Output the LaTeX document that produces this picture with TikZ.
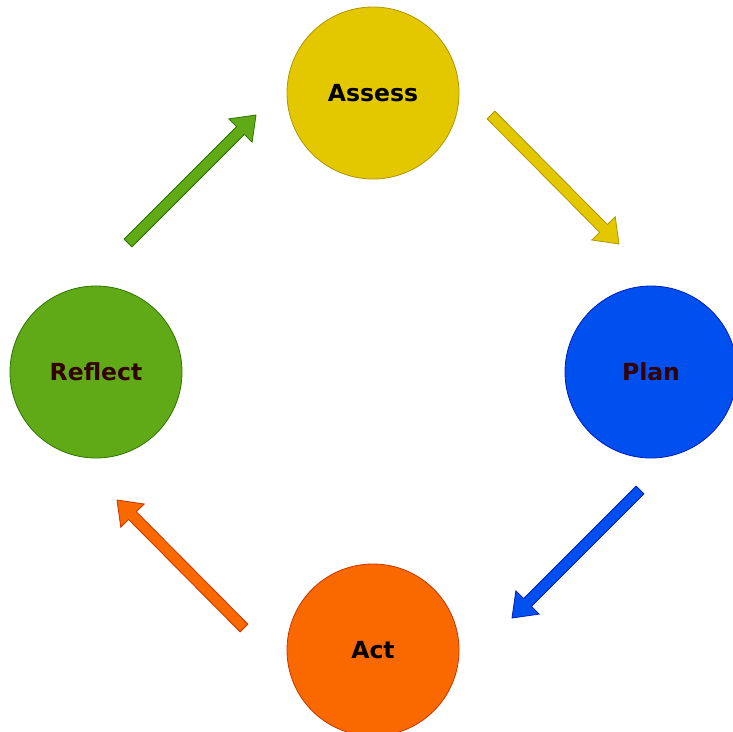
\documentclass[tikz,border=0pt]{standalone}
\usepackage{fontspec}
\setmainfont{DejaVu Sans}
\usetikzlibrary{calc}

\definecolor{yelFill}{HTML}{E3C800}
\definecolor{yelLine}{HTML}{B09500}
\definecolor{bluFill}{HTML}{0050EF}
\definecolor{bluLine}{HTML}{001DBC}
\definecolor{oraFill}{HTML}{FA6800}
\definecolor{oraLine}{HTML}{C73500}
\definecolor{grnFill}{HTML}{60A917}
\definecolor{grnLine}{HTML}{2D7600}
\definecolor{darkText}{HTML}{330000}

\tikzset{
  stage/.style={circle, minimum size=172pt, inner sep=0pt, line width=0.8pt,
    font=\fontsize{23.5}{27}\selectfont\bfseries},
  % flat block arrow: shaft 11pt wide, head 33pt wide and 22pt long
  blockarrow/.style={line width=0.8pt, line join=miter, to path={
    let \p1=(\tikztostart), \p2=(\tikztotarget), \p3=($(\p2)!22pt!(\p1)$) in
    ($(\p1)!5.5pt!90:(\p2)$) -- ($(\p3)!5.5pt!-90:(\p1)$) -- ($(\p3)!16.5pt!-90:(\p1)$)
    -- (\p2) -- ($(\p3)!16.5pt!90:(\p1)$) -- ($(\p3)!5.5pt!90:(\p1)$)
    -- ($(\p1)!5.5pt!-90:(\p2)$) -- cycle}}
}

\begin{document}
\begin{tikzpicture}[x=1pt, y=-1pt]
  \useasboundingbox (0,0) rectangle (733,731);

  \node[stage, fill=yelFill, draw=yelLine] (assess)  at (373,93)  {Assess};
  \node[stage, fill=bluFill, draw=bluLine, text=darkText] (plan) at (651,372) {Plan};
  \node[stage, fill=oraFill, draw=oraLine] (act)     at (373,650) {Act};
  \node[stage, fill=grnFill, draw=grnLine, text=darkText] (reflect) at (96,372) {Reflect};

  % arrow ends
  \coordinate (y0) at (491,115);  \coordinate (y1) at (619,244);
  \coordinate (b0) at (640,490);  \coordinate (b1) at (512,618);
  \coordinate (o0) at (244,628);  \coordinate (o1) at (117,500);
  \coordinate (g0) at (128,243);  \coordinate (g1) at (256,115);

  \filldraw[blockarrow, fill=yelFill, draw=yelLine] (y0) to (y1);
  \filldraw[blockarrow, fill=bluFill, draw=bluLine] (b0) to (b1);
  \filldraw[blockarrow, fill=oraFill, draw=oraLine] (o0) to (o1);
  \filldraw[blockarrow, fill=grnFill, draw=grnLine] (g0) to (g1);
\end{tikzpicture}
\end{document}
